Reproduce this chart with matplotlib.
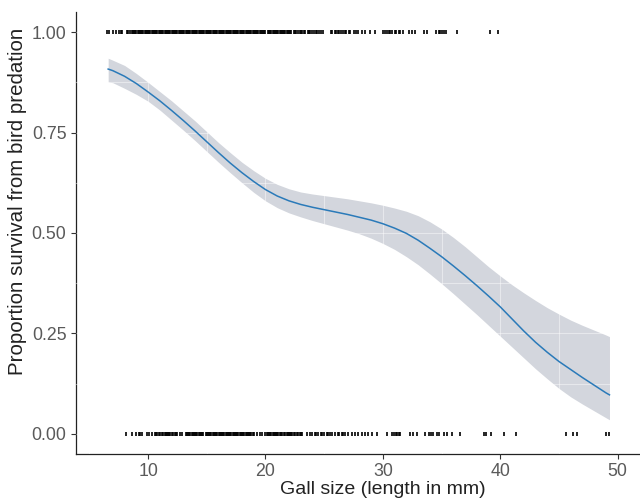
import matplotlib
matplotlib.use("Agg")
import matplotlib.pyplot as plt
from matplotlib.ticker import MultipleLocator

plt.rcParams['font.family'] = ['Liberation Sans', 'DejaVu Sans']

# Fitted curve (proportion surviving vs gall size) with confidence band
fit_x = [6.6, 7, 8, 9, 10, 11, 12, 13, 14, 15, 16, 17, 18, 19, 20, 21, 22, 23, 24, 25, 26, 27, 28,
         29, 30, 31, 32, 33, 34, 35, 36, 37, 38, 39, 40, 41, 42, 43, 44, 45, 46, 47, 48, 49, 49.3]
fit_y = [0.908, 0.904, 0.890, 0.872, 0.851, 0.829, 0.805, 0.780, 0.754, 0.727, 0.700, 0.674, 0.650,
         0.628, 0.608, 0.592, 0.580, 0.571, 0.564, 0.558, 0.552, 0.546, 0.539, 0.532, 0.523, 0.512,
         0.499, 0.482, 0.462, 0.441, 0.418, 0.394, 0.369, 0.343, 0.316, 0.286, 0.256, 0.228, 0.203,
         0.180, 0.160, 0.140, 0.121, 0.102, 0.097]
fit_lo = [0.876, 0.874, 0.860, 0.845, 0.828, 0.806, 0.781, 0.756, 0.730, 0.703, 0.676, 0.650, 0.625,
          0.601, 0.580, 0.563, 0.550, 0.540, 0.531, 0.523, 0.515, 0.507, 0.498, 0.487, 0.474, 0.459,
          0.441, 0.421, 0.398, 0.374, 0.349, 0.323, 0.297, 0.270, 0.243, 0.216, 0.189, 0.162, 0.137,
          0.113, 0.092, 0.074, 0.057, 0.040, 0.035]
fit_hi = [0.935, 0.930, 0.917, 0.897, 0.875, 0.852, 0.829, 0.804, 0.779, 0.752, 0.725, 0.700, 0.676,
          0.655, 0.636, 0.621, 0.610, 0.602, 0.597, 0.593, 0.589, 0.585, 0.580, 0.575, 0.569, 0.562,
          0.554, 0.543, 0.528, 0.510, 0.489, 0.466, 0.441, 0.416, 0.393, 0.371, 0.351, 0.332, 0.314,
          0.298, 0.283, 0.270, 0.258, 0.246, 0.242]

# Raw observations: gall sizes of galls that survived (1) and were predated (0)
survived = [6.5, 6.7, 7.0, 7.3, 7.5, 7.7, 7.8, 8.2, 8.3,
            8.5, 8.6, 8.7, 8.8, 8.9, 9.0, 9.1, 9.2, 9.3, 9.4, 9.5, 9.6, 9.7, 9.8, 9.9,
            10.0, 10.1, 10.2, 10.3, 10.4, 10.5, 10.6, 10.7, 10.8, 10.9, 11.0, 11.1, 11.2, 11.3, 11.4,
            11.5, 11.6, 11.7, 11.8, 11.9, 12.0, 12.1, 12.2, 12.3, 12.4, 12.5, 12.6, 12.7, 12.8, 12.9,
            13.0, 13.1, 13.2, 13.3, 13.4, 13.5, 13.6, 13.7, 13.8, 13.9, 14.0, 14.1, 14.2, 14.3, 14.4,
            14.5, 14.6, 14.7, 14.8, 14.9, 15.0, 15.1, 15.2, 15.3, 15.4, 15.5, 15.6, 15.7, 15.8, 15.9,
            16.0, 16.1, 16.2, 16.3, 16.4, 16.5, 16.6, 16.7, 16.8, 16.9, 17.0, 17.1, 17.2, 17.3, 17.4,
            17.5, 17.6, 17.7, 17.8, 17.9, 18.0, 18.1, 18.2, 18.3, 18.4, 18.5, 18.6, 18.7, 18.8, 18.9,
            19.0, 19.1, 19.2, 19.3, 19.4, 19.5, 19.6, 19.7, 19.8, 19.9, 20.0, 20.2, 20.3, 20.4,
            20.5, 20.6, 20.7, 20.8, 20.9, 21.0, 21.1, 21.2, 21.3, 21.4, 21.5, 21.6, 21.7, 21.8, 21.9,
            22.0, 22.1, 22.2,
            22.4, 22.5, 22.6, 22.8, 22.9, 23.0, 23.1, 23.3, 23.4, 23.6, 23.7, 23.8, 24.0, 24.1, 24.3,
            24.4, 24.6, 24.7, 24.9,
            25.6, 25.7, 25.9, 26.0, 26.2, 26.3, 26.4, 26.6, 26.8, 26.9, 27.1, 27.2,
            27.5, 27.7, 27.9, 28.2, 28.5, 28.9, 29.35,
            30.0, 30.2, 30.35, 30.5, 30.6, 30.8, 31.0, 31.15, 31.35, 31.5, 31.75, 32.25, 32.5, 32.7,
            33.5, 33.75, 34.55, 34.75, 34.9, 35.05, 35.2, 35.4, 36.3, 39.15, 39.8]

predated = [8.1, 8.6, 9.0, 9.2, 9.3, 9.5, 9.9, 10.1, 10.3,
            10.6, 10.7, 10.8, 10.9, 11.0, 11.2, 11.3, 11.4, 11.5, 11.6, 11.7, 11.8, 11.9, 12.0, 12.1,
            12.3, 12.4, 12.5, 12.7, 12.9,
            13.2, 13.3, 13.4, 13.5, 13.6, 13.7, 13.8, 13.9, 14.0, 14.1, 14.2, 14.3, 14.4, 14.5, 14.6, 14.7,
            14.9, 15.0, 15.1, 15.2, 15.3, 15.4, 15.5, 15.6, 15.7, 15.8, 15.9, 16.0, 16.1, 16.2, 16.3,
            16.4, 16.5, 16.6, 16.7, 16.8, 16.9, 17.0, 17.1, 17.2, 17.3, 17.4, 17.5, 17.6, 17.7, 17.8,
            17.9, 18.0, 18.1, 18.2, 18.3, 18.4, 18.5, 18.6, 18.7, 18.8, 18.9, 19.0, 19.3, 19.5, 19.7,
            20.0, 20.1, 20.2, 20.3, 20.4, 20.5, 20.6, 20.7, 20.8, 20.9, 21.0, 21.1, 21.2, 21.3, 21.4,
            21.6, 21.7, 21.8, 21.9, 22.0, 22.1, 22.2, 22.3, 22.4, 22.5, 22.7, 22.8, 22.9, 23.0, 23.1,
            23.5, 23.8, 24.0, 24.2, 24.3, 24.5, 24.7, 24.8, 25.0, 25.2, 25.3, 25.5, 25.7, 25.9,
            26.2, 26.3, 26.5, 26.6, 26.8, 27.0, 27.4, 27.65, 27.9, 28.2, 28.5, 28.75, 29.1, 29.5, 30.35,
            30.8, 30.95, 31.1, 31.2, 31.35, 31.5, 32.3, 32.6, 32.9,
            33.6, 33.9, 34.1, 34.3, 34.6, 34.8, 35.2, 35.5, 35.9, 36.6, 38.6, 38.75, 39.2, 40.3, 41.3,
            45.6, 46.2, 46.55, 49.0, 49.3]

x_ticks = [10, 20, 30, 40, 50]
y_ticks = [0.00, 0.25, 0.50, 0.75, 1.00]
y_tick_labels = ["0.00", "0.25", "0.50", "0.75", "1.00"]

fig = plt.figure(figsize=(6.4, 5.01), dpi=100)
ax = fig.add_axes([0.118, 0.094, 0.882, 0.882])

ax.fill_between(fit_x, fit_lo, fit_hi, color='#D3D6DD', linewidth=0, zorder=1)
ax.plot(fit_x, fit_y, color='#2a7ab9', linewidth=1.1, zorder=3)

ax.plot(survived, [1.0] * len(survived), linestyle='none', marker='|', markersize=3,
        markeredgewidth=1.2, color='black', zorder=4)
ax.plot(predated, [0.0] * len(predated), linestyle='none', marker='|', markersize=3,
        markeredgewidth=1.2, color='black', zorder=4)

ax.set_xlim(3.82, 51.9)
ax.set_ylim(-0.05, 1.05)
ax.set_xticks(x_ticks)
ax.set_yticks(y_ticks)
ax.set_yticklabels(y_tick_labels)
ax.xaxis.set_minor_locator(MultipleLocator(5))
ax.yaxis.set_minor_locator(MultipleLocator(0.125))

ax.set_axisbelow(False)
ax.grid(True, which='both', color='white', alpha=0.45, linewidth=0.8)
for gl in ax.get_xgridlines() + ax.get_ygridlines():
    gl.set_zorder(2)

for s in ['top', 'right']:
    ax.spines[s].set_visible(False)
for s in ['left', 'bottom']:
    ax.spines[s].set_linewidth(0.9)
    ax.spines[s].set_color('#222222')

ax.tick_params(which='major', direction='out', length=3.5, width=0.8, color='#333333',
               labelsize=12.8, labelcolor='#5a5a5a', pad=3)
ax.tick_params(which='minor', length=0)

ax.set_xlabel("Gall size (length in mm)", fontsize=14, color='#222222')
ax.set_ylabel("Proportion survival from bird predation", fontsize=14.8, color='#222222')
ax.xaxis.set_label_coords(0.545, -0.081)
ax.yaxis.set_label_coords(-0.102, 0.572)
ax.xaxis.label.set_verticalalignment('center')
ax.yaxis.label.set_verticalalignment('center')

fig.savefig("out.png", dpi=100)
